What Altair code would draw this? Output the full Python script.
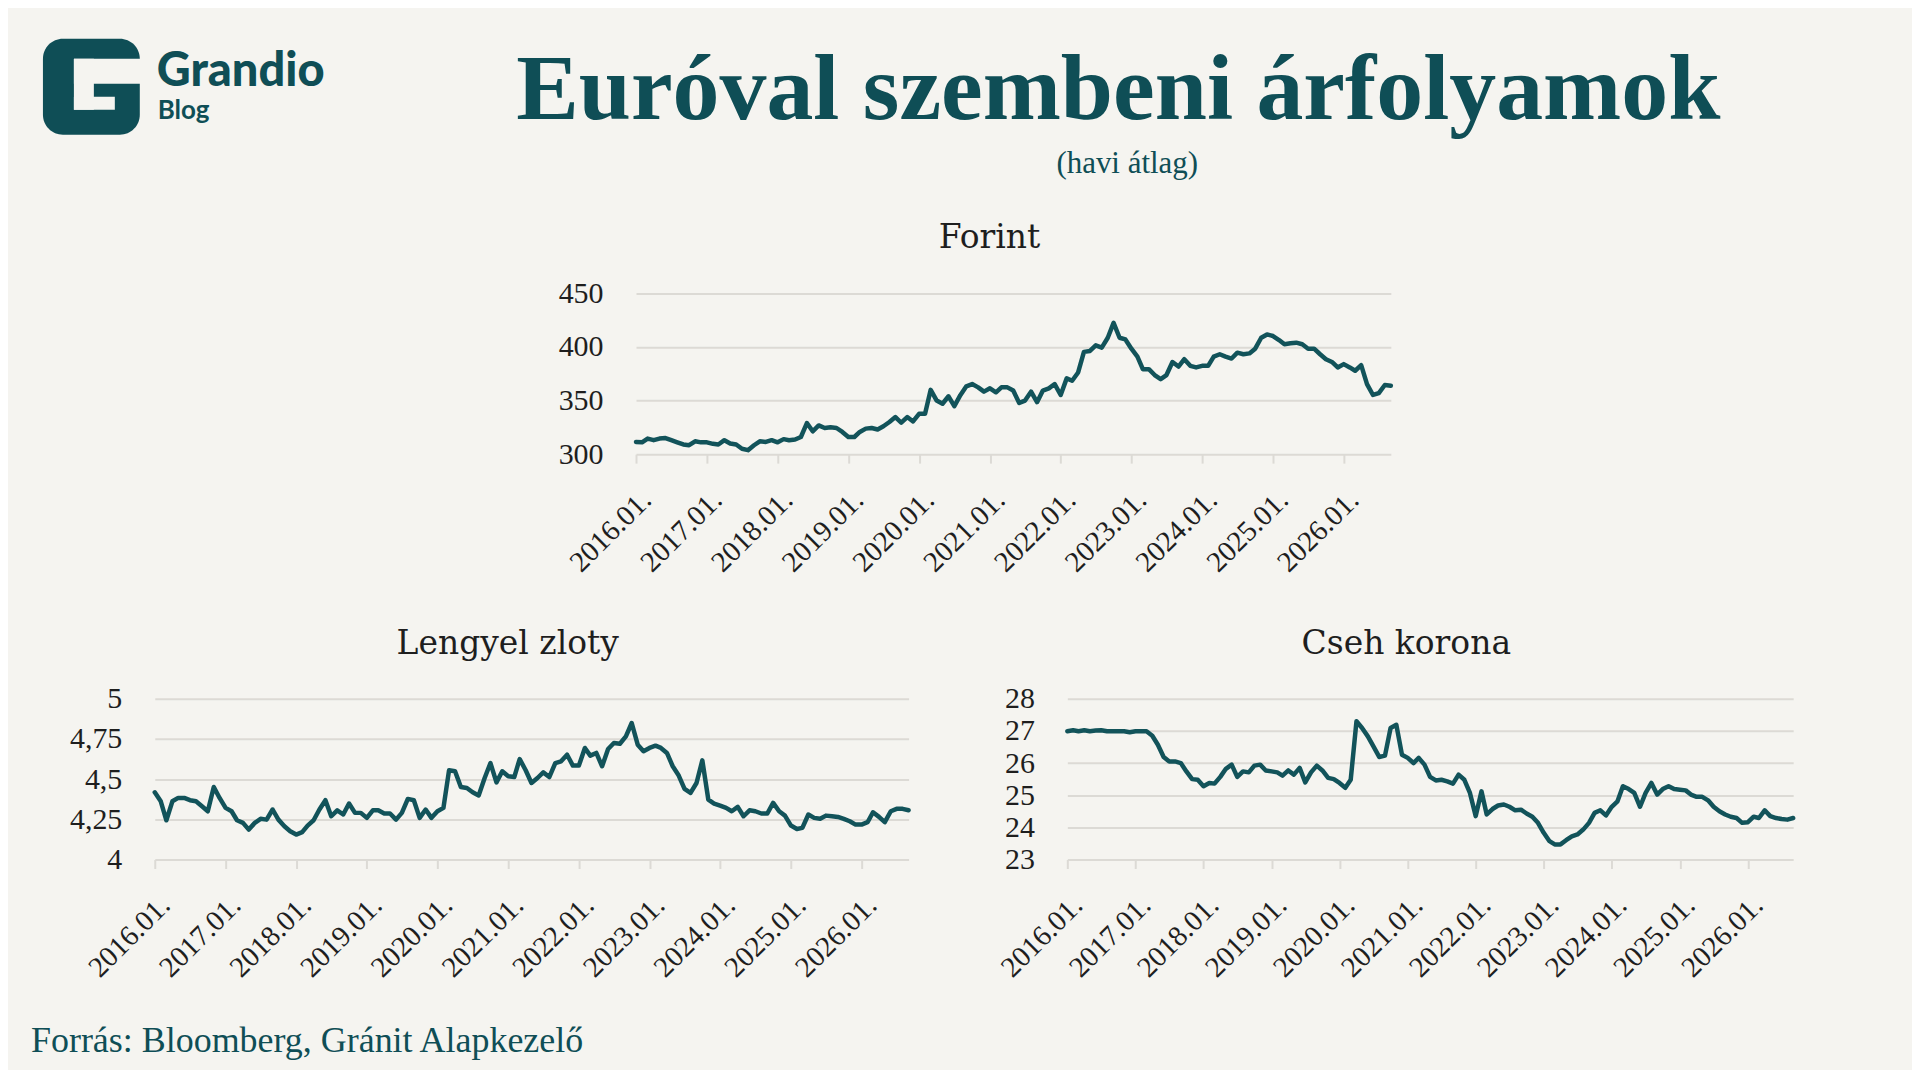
import altair as alt
import pandas as pd

# ---------------- data (monthly averages) ----------------
months = pd.date_range("2016-01-01", periods=129, freq="MS").strftime("%Y-%m-%d").tolist()

forint = [311.4, 311, 314.5, 313, 314.5, 315, 313, 311, 309, 308.3, 312, 311,
          311, 309.6, 309, 313, 310, 309, 305, 303.7, 308.3, 312, 311.4, 313,
          311, 314, 313, 313.6, 316, 329, 321.3, 326.8, 324.4, 325, 324.4, 320.7,
          316, 316, 320.7, 323.8, 324.4, 323, 326, 330, 334.6, 329.3, 334.6, 330.5,
          337.6, 337.6, 360, 350, 347, 354, 344.7, 355, 363.3, 365.4, 362.3, 358.3,
          361.4, 357.7, 362.3, 362.3, 359.3, 347.8, 350, 358.3, 348.5, 359.3, 361.4, 365.4,
          355.2, 370.7, 368.5, 376.2, 395.4, 396.3, 401.5, 399.4, 408.6, 422.5, 408.6, 407,
          398.4, 391, 379.3, 379.3, 373.8, 370, 373.8, 386, 381.7, 388.6, 382.4, 380.9,
          382.4, 382.4, 391, 393.2, 391, 389.2, 394.7, 393.2, 394, 398.4, 408.6, 411.7,
          410.2, 406.5, 402.5, 403.4, 404, 402.5, 398.4, 398.4, 393.2, 388.6, 386, 380.9,
          384, 380.9, 377.8, 383, 365.4, 355.2, 357, 364.5, 363.9]

zloty = [4.418, 4.362, 4.244, 4.362, 4.383, 4.383, 4.369, 4.362, 4.331, 4.300, 4.451, 4.383,
         4.321, 4.300, 4.244, 4.228, 4.186, 4.228, 4.253, 4.248, 4.311, 4.248, 4.207, 4.176,
         4.155, 4.170, 4.211, 4.244, 4.311, 4.369, 4.269, 4.306, 4.280, 4.348, 4.290, 4.290,
         4.259, 4.306, 4.306, 4.286, 4.286, 4.248, 4.290, 4.377, 4.369, 4.259, 4.311, 4.259,
         4.300, 4.321, 4.555, 4.549, 4.451, 4.445, 4.418, 4.398, 4.507, 4.600, 4.480, 4.549,
         4.518, 4.513, 4.625, 4.555, 4.476, 4.507, 4.542, 4.513, 4.600, 4.611, 4.652, 4.584,
         4.584, 4.694, 4.646, 4.663, 4.580, 4.687, 4.725, 4.720, 4.766, 4.849, 4.714, 4.673,
         4.694, 4.708, 4.694, 4.663, 4.580, 4.522, 4.439, 4.414, 4.476, 4.617, 4.373, 4.348,
         4.335, 4.321, 4.300, 4.327, 4.269, 4.306, 4.300, 4.286, 4.286, 4.352, 4.300, 4.273,
         4.211, 4.190, 4.197, 4.280, 4.259, 4.253, 4.273, 4.269, 4.265, 4.253, 4.238, 4.217,
         4.217, 4.232, 4.294, 4.265, 4.232, 4.300, 4.315, 4.315, 4.306]

koruna = [26.99, 27.02, 26.99, 27.02, 26.99, 27.01, 27.02, 26.99, 26.99, 26.99, 26.99, 26.96,
          26.99, 26.99, 26.99, 26.85, 26.57, 26.19, 26.05, 26.05, 26.0, 25.74, 25.5, 25.48,
          25.28, 25.38, 25.36, 25.57, 25.82, 25.95, 25.57, 25.74, 25.71, 25.92, 25.95, 25.77,
          25.74, 25.71, 25.61, 25.77, 25.64, 25.85, 25.4, 25.71, 25.92, 25.77, 25.54, 25.5,
          25.38, 25.23, 25.48, 27.3, 27.09, 26.83, 26.52, 26.19, 26.23, 27.09, 27.19, 26.26,
          26.16, 26.0, 26.16, 25.95, 25.57, 25.46, 25.48, 25.43, 25.36, 25.64, 25.48, 25.07,
          24.35, 25.12, 24.4, 24.57, 24.68, 24.71, 24.64, 24.53, 24.55, 24.43, 24.33, 24.14,
          23.83, 23.57, 23.47, 23.47, 23.6, 23.72, 23.78, 23.93, 24.14, 24.45, 24.53, 24.37,
          24.64, 24.81, 25.28, 25.19, 25.07, 24.64, 25.07, 25.38, 25.02, 25.19, 25.28, 25.19,
          25.17, 25.15, 25.02, 24.95, 24.95, 24.84, 24.64, 24.5, 24.4, 24.33, 24.29, 24.14,
          24.16, 24.33, 24.29, 24.53, 24.35, 24.29, 24.26, 24.24, 24.29]

forint_ticks = [300, 350, 400, 450]
zloty_ticks = [4, 4.25, 4.5, 4.75, 5]
koruna_ticks = [23, 24, 25, 26, 27, 28]
tick_years = list(range(2016, 2027))

title_text = "Euróval szembeni árfolyamok"
subtitle_text = "(havi átlag)"
source_text = "Forrás: Bloomberg, Gránit Alapkezelő"

# ---------------- style ----------------
BG = "#f5f4f0"
TEAL = "#0f4e56"
LINE = "#12535a"
GRID = "#dcdad5"
TXT = "#1e1e1e"
SERIF = "Liberation Serif"
HEAD = "DejaVu Serif"


def ms(s):
    return int(pd.Timestamp(s, tz="UTC").timestamp() * 1000)


x_domain = [ms(months[0]), ms(months[-1])]
x_ticks = [ms(f"{y}-01-01") for y in tick_years]


def panel(values, ydomain, yticks, width, height, name, label_expr=None):
    df = pd.DataFrame({"date": months, "value": values})
    yaxis_kw = dict(values=yticks, grid=True, gridColor=GRID, gridWidth=2, domain=False,
                    ticks=False, tickSize=0, labelPadding=33, labelFont=SERIF, labelFontSize=30,
                    labelColor=TXT, title=None, labelOverlap=False)
    if label_expr:
        yaxis_kw["labelExpr"] = label_expr
    line = alt.Chart(df).mark_line(color=LINE, strokeWidth=4.5, strokeJoin="round",
                                   strokeCap="round").encode(
        x=alt.X("date:T", scale=alt.Scale(domain=x_domain),
                axis=alt.Axis(values=x_ticks, labelExpr="utcFormat(datum.value, '%Y.%m.')",
                              labelAngle=-45, grid=False, domain=False, ticks=True,
                              tickColor=GRID, tickWidth=2, tickSize=9, labelPadding=22,
                              labelFont=SERIF, labelFontSize=29, labelColor=TXT, title=None,
                              labelOverlap=False, labelFlush=False)),
        y=alt.Y("value:Q", scale=alt.Scale(domain=ydomain, nice=False, zero=False),
                axis=alt.Axis(**yaxis_kw)),
    )
    ttl = alt.Chart(pd.DataFrame({"t": [name]})).mark_text(
        font=HEAD, fontSize=33, color=TXT, align="center", baseline="alphabetic"
    ).encode(text="t:N", x=alt.value(width / 2 - 24), y=alt.value(-45))
    return alt.layer(line, ttl).properties(width=width, height=height)


H = 161
forint_chart = panel(forint, [300, 450], forint_ticks, 756, H, "Forint")
zloty_base = panel(zloty, [4, 5], zloty_ticks, 755, H, "Lengyel zloty",
                   label_expr="replace(format(datum.value, '~g'), '.', ',')")
koruna_chart = panel(koruna, [23, 28], koruna_ticks, 727, H, "Cseh korona")

# ---------------- header (placed in the spacer cell; origin = abs (155, 294)) ----------------
OX, OY = 155, 294
one = pd.DataFrame({"a": [0]})


def rect(x1, y1, x2, y2, color, r=0):
    return alt.Chart(one).mark_rect(color=color, cornerRadius=r).encode(
        x=alt.value(x1 - OX), x2=alt.value(x2 - OX), y=alt.value(y1 - OY), y2=alt.value(y2 - OY))


def text(s, x, y, font, size, color, weight="normal", align="left"):
    return alt.Chart(pd.DataFrame({"t": [s]})).mark_text(
        font=font, fontSize=size, color=color, fontWeight=weight, align=align,
        baseline="alphabetic").encode(text="t:N", x=alt.value(x - OX), y=alt.value(y - OY))


spacer = alt.layer(
    rect(43, 39, 140, 135, TEAL, 20),
    rect(74, 59, 141, 84, BG),
    rect(74, 59, 94, 110, BG),
    rect(74, 97, 115, 110, BG),
    text("Grandio", 157, 86, "Lato", 47, TEAL, 900),
    text("Blog", 158, 119, "Lato", 26, TEAL, "bold"),
    text(title_text, 1120, 119, SERIF, 94, TEAL, "bold", "center"),
    text(subtitle_text, 1129, 173, SERIF, 31, TEAL, "normal", "center"),
).properties(width=482, height=H)

# source line placed in the zloty cell (origin abs (155, 700))
src = alt.Chart(pd.DataFrame({"t": [source_text]})).mark_text(
    font=SERIF, fontSize=36, color=TEAL, align="left", baseline="alphabetic"
).encode(text="t:N", x=alt.value(31 - 155), y=alt.value(1054 - 700))
zloty_chart = alt.layer(zloty_base, src)

top_row = alt.hconcat(spacer, forint_chart, spacing=0).properties(bounds="flush")
bottom_row = alt.hconcat(zloty_chart, koruna_chart, spacing=159).properties(bounds="flush")

chart = alt.vconcat(top_row, bottom_row, spacing=406).properties(
    bounds="flush",
    padding={"left": 23, "top": 30, "right": 116, "bottom": 10},
    background=BG,
).configure_view(strokeWidth=0)

chart.save("out.html", embed_options={"renderer": "svg", "actions": False})
